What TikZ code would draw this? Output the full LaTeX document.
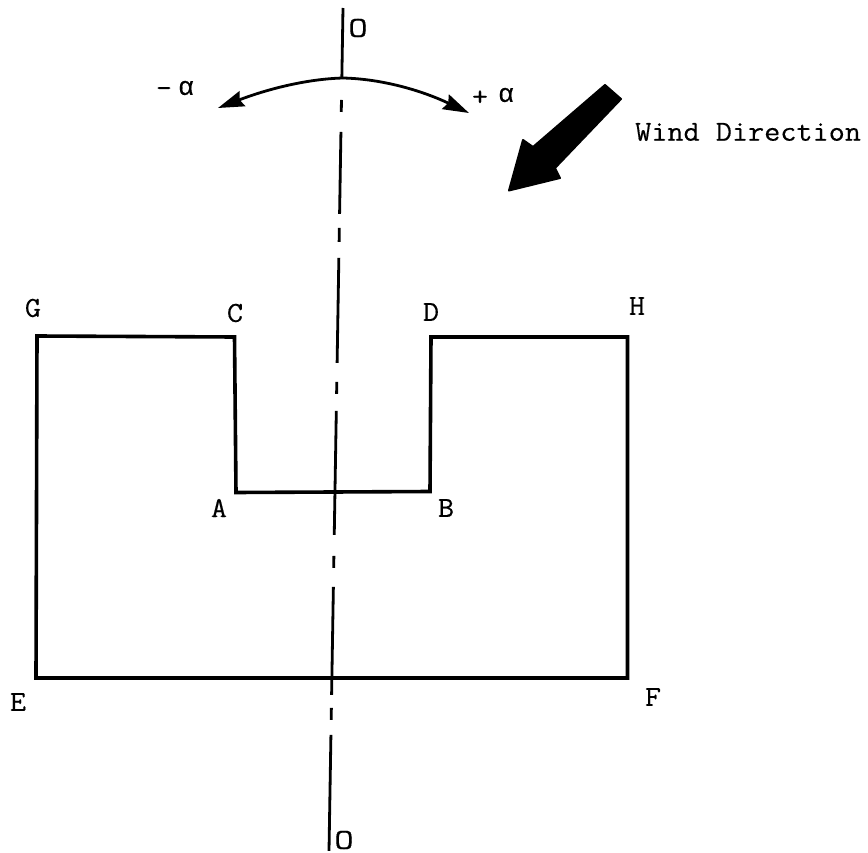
\documentclass[tikz,border=0pt]{standalone}
\usepackage{fontspec}
\setmonofont{Latin Modern Mono}[FakeStretch=1.08,FakeBold=0.35]
\newfontfamily\greekfont{Liberation Mono}[FakeBold=0.3]
\usetikzlibrary{arrows.meta}
\tikzset{
  x=1pt,y=-1pt,
  wall/.style={line width=3.6pt,line join=miter},
  axisline/.style={line width=2.8pt,dash pattern=on 70pt off 22pt on 12pt off 20pt on 82pt off 14pt on 14pt off 16pt on 105pt off 19pt on 12pt off 17pt on 124pt off 21pt on 12pt off 19pt on 108pt off 13pt on 12pt off 15pt on 116pt off 50pt},
  swing/.style={line width=2.8pt,-{Stealth[length=26pt,width=16pt,inset=3pt]}},
  lab/.style={inner sep=0pt,font=\fontsize{29}{29}\ttfamily},
  sym/.style={inner sep=0pt,font=\fontsize{26}{26}\greekfont}
}
\begin{document}
\begin{tikzpicture}
\useasboundingbox (0,0) rectangle (868,853);
% corners
\coordinate (g) at (37,336);
\coordinate (c) at (234.5,337);
\coordinate (a) at (236,492.5);
\coordinate (b) at (430,491.5);
\coordinate (d) at (431,337);
\coordinate (h) at (627.5,337);
\coordinate (f) at (627.5,678);
\coordinate (e) at (36,678);
\draw[wall] (g) -- (c) -- (a) -- (b) -- (d) -- (h) -- (f) -- (e) -- cycle;
% axis
\coordinate (otop) at (343,8);
\coordinate (obot) at (329,851);
\draw[axisline] (otop) -- (obot);
% swing arrows
\coordinate (mid) at (343,78);
\coordinate (lefttip) at (218,108);
\coordinate (righttip) at (469,113);
\draw[swing] (mid) .. controls (305,79) and (265,90) .. (lefttip);
\draw[swing] (mid) .. controls (385,79) and (425,92) .. (righttip);
% wind arrow
\fill[draw=black,line width=2pt,line join=round]
  (605,85) -- (621,99) -- (555,168) -- (560,178) -- (509,190.5) -- (523,140) -- (533,147) -- cycle;
% labels
\node[lab] (lg) at (33,308) {\textbf{G}};
\node[lab] (lc) at (235,313) {C};
\node[lab] (ld) at (431,312) {D};
\node[lab] (lh) at (637,306) {H};
\node[lab] (la) at (219,508) {A};
\node[lab] (lb) at (446,508) {B};
\node[lab] (le) at (18,702) {E};
\node[lab] (lf) at (653,697) {F};
\node[lab] (lo1) at (358,28) {\scalebox{1.2}[1]{O}};
\node[lab] (lo2) at (344,840) {\scalebox{1.2}[1]{O}};
\node[lab,anchor=west] (wind) at (635,132) {Wind Direction};
\node[lab] (mn) at (164,92) {-};
\node[sym] (al1) at (186,88) {α};
\node[lab] (pl) at (480,98) {+};
\node[sym] (al2) at (506,95) {α};
\end{tikzpicture}
\end{document}
